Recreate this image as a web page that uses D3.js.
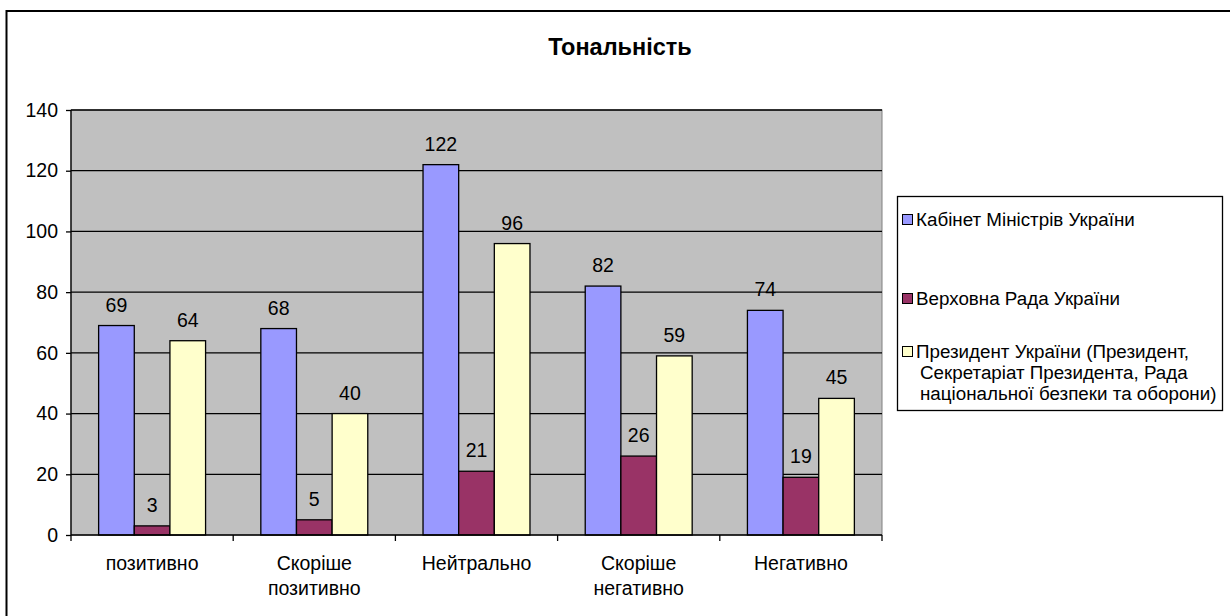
<!DOCTYPE html>
<html>
<head>
<meta charset="utf-8">
<script src="https://cdn.jsdelivr.net/npm/d3@7"></script>
<style>
  body { margin: 0; background: #fff; }
  text { font-family: "Liberation Sans", Arial, sans-serif; fill: #000; }
</style>
</head>
<body>
<div id="chart"></div>
<script>
var categories = [["позитивно"], ["Скоріше", "позитивно"], ["Нейтрально"], ["Скоріше", "негативно"], ["Негативно"]];
var seriesNames = [
  ["Кабінет Міністрів України"],
  ["Верховна Рада України"],
  ["Президент України (Президент,", "Секретаріат Президента, Рада", "національної безпеки та оборони)"]
];
var cabinet = [69, 68, 122, 82, 74];
var rada = [3, 5, 21, 26, 19];
var president = [64, 40, 96, 59, 45];
var yTicks = [0, 20, 40, 60, 80, 100, 120, 140];
var colors = ["#9999ff", "#993366", "#ffffcc"];

var W = 1230, H = 616;
var plot = {left: 71, top: 110, right: 882, bottom: 535};
var fs = "19.5px";

var svg = d3.select("#chart").append("svg").attr("width", W).attr("height", H);

// outer frame (right and bottom edges run off the picture)
svg.append("rect")
  .attr("x", 6.5).attr("y", 11)
  .attr("width", 1240).attr("height", 640)
  .attr("fill", "white").attr("stroke", "black").attr("stroke-width", 2);

svg.append("text")
  .attr("x", 620).attr("y", 55)
  .attr("text-anchor", "middle")
  .style("font-size", "23.5px").style("font-weight", "bold")
  .text("Тональність");

var x = d3.scaleBand().domain(d3.range(categories.length)).range([plot.left, plot.right]);
var y = d3.scaleLinear().domain([0, 140]).range([plot.bottom, plot.top]);

svg.append("rect")
  .attr("x", plot.left).attr("y", plot.top)
  .attr("width", plot.right - plot.left).attr("height", plot.bottom - plot.top)
  .attr("fill", "#c0c0c0").attr("stroke", "#808080");

// gridlines
svg.selectAll(".grid")
  .data(yTicks.slice(1))
  .enter().append("line")
  .attr("class", "grid")
  .attr("x1", plot.left).attr("x2", plot.right)
  .attr("y1", function(d) { return y(d); })
  .attr("y2", function(d) { return y(d); })
  .attr("stroke", "black").attr("stroke-width", 1.3);

// y axis
var yAxis = svg.append("g")
  .attr("transform", "translate(" + plot.left + ",0)")
  .call(d3.axisLeft(y).tickValues(yTicks).tickSize(5).tickPadding(8));
yAxis.selectAll("text").style("font-size", fs).style("font-family", "Liberation Sans, Arial, sans-serif").attr("fill", "#000");
yAxis.selectAll("line, path").attr("stroke", "black").attr("stroke-width", 1.3);
yAxis.select(".domain").attr("d", "M0," + plot.top + "V" + plot.bottom);

// bars
var series = [cabinet, rada, president];
var inner = d3.scaleBand().domain([0, 1, 2]).range([0, x.bandwidth()]).paddingOuter(0.775).paddingInner(0);

series.forEach(function(vals, s) {
  var g = svg.append("g");
  g.selectAll("rect")
    .data(vals)
    .enter().append("rect")
    .attr("x", function(d, i) { return x(i) + inner(s); })
    .attr("y", function(d) { return y(d); })
    .attr("width", inner.bandwidth())
    .attr("height", function(d) { return y(0) - y(d); })
    .attr("fill", colors[s])
    .attr("stroke", "black").attr("stroke-width", 1.3);
  g.selectAll("text")
    .data(vals)
    .enter().append("text")
    .attr("x", function(d, i) { return x(i) + inner(s) + inner.bandwidth() / 2; })
    .attr("y", function(d) { return y(d) - 14; })
    .attr("text-anchor", "middle")
    .style("font-size", fs)
    .text(function(d) { return d; });
});

// x axis
svg.append("line")
  .attr("x1", plot.left).attr("x2", plot.right)
  .attr("y1", plot.bottom).attr("y2", plot.bottom)
  .attr("stroke", "black").attr("stroke-width", 1.3);
svg.selectAll(".xtick")
  .data(d3.range(categories.length + 1))
  .enter().append("line")
  .attr("x1", function(d) { return d < categories.length ? x(d) : plot.right; })
  .attr("x2", function(d) { return d < categories.length ? x(d) : plot.right; })
  .attr("y1", plot.bottom).attr("y2", plot.bottom + 6)
  .attr("stroke", "black").attr("stroke-width", 1.3);

var catLabels = svg.selectAll(".cat")
  .data(categories)
  .enter().append("text")
  .attr("class", "cat")
  .attr("text-anchor", "middle")
  .style("font-size", fs);
catLabels.selectAll("tspan")
  .data(function(d, i) { return d.map(function(t) { return {t: t, i: i}; }); })
  .enter().append("tspan")
  .attr("x", function(d) { return x(d.i) + x.bandwidth() / 2; })
  .attr("y", function(d, j) { return 570 + j * 25; })
  .text(function(d) { return d.t; });

// legend
var legend = svg.append("g");
legend.append("rect")
  .attr("x", 897.5).attr("y", 196.5)
  .attr("width", 325).attr("height", 214)
  .attr("fill", "white").attr("stroke", "black").attr("stroke-width", 1.3);
var legendY = [219, 298, 351];
seriesNames.forEach(function(lines, s) {
  legend.append("rect")
    .attr("x", 902.5).attr("y", legendY[s] - 4.5)
    .attr("width", 10).attr("height", 10)
    .attr("fill", colors[s]).attr("stroke", "black");
  var t = legend.append("text").style("font-size", "18.8px");
  lines.forEach(function(line, j) {
    t.append("tspan")
      .attr("x", j === 0 ? 916 : 920)
      .attr("y", legendY[s] + 7 + j * 21)
      .text(line);
  });
});
</script>
</body>
</html>
